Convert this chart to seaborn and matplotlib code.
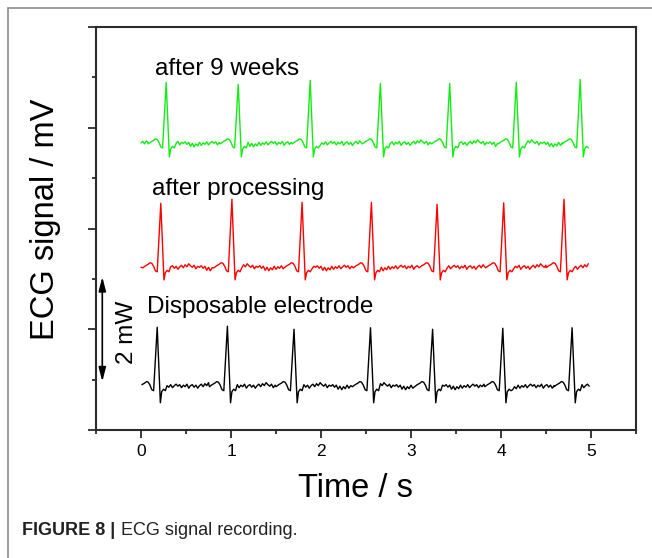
import numpy as np
import pandas as pd
import matplotlib
matplotlib.use("Agg")
import matplotlib.pyplot as plt
import seaborn as sns
from matplotlib.lines import Line2D
from matplotlib.ticker import MultipleLocator

# ---------------- data ----------------
series_names = ["Disposable electrode", "after processing", "after 9 weeks"]
series_colors = ["#000000", "#ff0000", "#11ee11"]

# R-peak times (s)
black_beats = [0.18, 0.96, 1.70, 2.55, 3.24, 4.02, 4.79]
red_beats = [0.22, 1.01, 1.79, 2.56, 3.29, 4.03, 4.70]
green_beats = [0.28, 1.08, 1.88, 2.66, 3.43, 4.17, 4.88]

# R-peak values (mV)
black_peaks = [2.04, 2.06, 2.00, 2.03, 2.00, 2.02, 2.03]
red_peaks = [4.50, 4.58, 4.52, 4.52, 4.48, 4.51, 4.58]
green_peaks = [6.90, 6.86, 6.94, 6.88, 6.88, 6.90, 6.96]

# baseline level and S-wave trough (mV)
black_base, black_trough = 0.86, 0.54
red_base, red_trough = 3.22, 2.98
green_base, green_trough = 5.68, 5.42

# beat shape around the R peak (offset s, value above baseline mV); R / S marked by nan
beat_dt = [-0.20, -0.17, -0.14, -0.12, -0.10, -0.08, -0.06, -0.04, 0.0, 0.035, 0.05, 0.07, 0.09]
beat_dv = [0.00, 0.04, 0.07, 0.10, 0.09, 0.03, -0.06, -0.08, np.nan, np.nan, -0.10, -0.05, -0.08]

# baseline jitter between beats (mV, every 0.02 s), estimated from the traces
wiggle = [-0.05, 0.01, -0.06, 0.00, -0.04, 0.03, -0.03, 0.02, -0.01, 0.04,
          -0.02, 0.02, 0.05, 0.01, 0.04, -0.02, 0.03, 0.00, 0.05, -0.03,
          0.02, 0.04, -0.01, 0.03, -0.03, 0.02, 0.05, 0.00, 0.06, 0.02,
          0.08, 0.04, 0.01, 0.05, -0.02, 0.03, 0.01, 0.04, -0.01, 0.03]

x_ticks = [0, 1, 2, 3, 4, 5]
t_end = 4.98


def build_trace(beats, peaks, base, trough, shift):
    ts, vs = [], []
    for i in range(len(beats) + 1):
        g0 = 0.0 if i == 0 else beats[i - 1] + 0.11
        g1 = t_end if i == len(beats) else beats[i] - 0.20
        k = 0
        t = g0
        while t < g1:
            ts.append(t)
            vs.append(base + wiggle[(k + shift + 7 * i) % len(wiggle)])
            t += 0.02
            k += 1
        if i < len(beats):
            for j, (dt, dv) in enumerate(zip(beat_dt, beat_dv)):
                tt = beats[i] + dt
                if tt < 0:
                    continue
                if j == 8:
                    val = peaks[i]
                elif j == 9:
                    val = trough
                else:
                    val = base + dv
                ts.append(tt)
                vs.append(val)
    return ts, vs


frames = []
for name, beats, peaks, base, trough, shift in [
    (series_names[0], black_beats, black_peaks, black_base, black_trough, 0),
    (series_names[1], red_beats, red_peaks, red_base, red_trough, 13),
    (series_names[2], green_beats, green_peaks, green_base, green_trough, 25),
]:
    ts, vs = build_trace(beats, peaks, base, trough, shift)
    frames.append(pd.DataFrame({"t": ts, "v": vs, "series": name}))
df = pd.concat(frames, ignore_index=True)

# ---------------- figure ----------------
sns.set_theme(style="white")
plt.rcParams["font.family"] = ["Liberation Sans", "DejaVu Sans"]
plt.rcParams["text.color"] = "black"
plt.rcParams["axes.labelcolor"] = "black"
plt.rcParams["xtick.labelcolor"] = "black"

W, H = 652, 558
fig = plt.figure(figsize=(W / 100, H / 100), dpi=100)
ax = fig.add_axes([96 / W, 1 - 430 / H, (636 - 96) / W, (430 - 27) / H])

for name, col in zip(series_names, series_colors):
    sns.lineplot(data=df[df.series == name], x="t", y="v", color=col,
                 sort=False, estimator=None, lw=1.0, ax=ax, legend=False)

ax.set_xlim(-0.5, 5.5)
ax.set_ylim(0, 8)
ax.set_xticks(x_ticks)
ax.set_xticklabels([str(v) for v in x_ticks])
ax.xaxis.set_minor_locator(MultipleLocator(0.5))
ax.yaxis.set_major_locator(MultipleLocator(2))
ax.yaxis.set_minor_locator(MultipleLocator(1))
ax.set_yticklabels([])

spine_col = "#2b2b2b"
for s in ax.spines.values():
    s.set_color(spine_col)
    s.set_linewidth(1.5)
ax.tick_params(axis="both", which="major", direction="out", length=6, width=1.3,
               color=spine_col, labelsize=12.5, pad=4, bottom=True, left=True,
               labelcolor="black")
ax.tick_params(axis="both", which="minor", direction="out", length=3, width=1.3,
               color=spine_col, bottom=True, left=True)
ax.tick_params(axis="y", which="both", labelleft=False)

ax.set_xlabel("Time / s", fontsize=23.5, color="black")
ax.xaxis.label.set_va("baseline")
ax.xaxis.set_label_coords(0.48, -0.166)
ax.set_ylabel("ECG signal / mV", fontsize=23.5, color="black")
ax.yaxis.label.set_va("center")
ax.yaxis.set_label_coords(-0.094, 0.524)

# trace labels
ax.text(0.156, 7.04, "after 9 weeks", fontsize=17.5, ha="left", va="baseline", color="black")
ax.text(0.12, 4.66, "after processing", fontsize=17.5, ha="left", va="baseline", color="black")
ax.text(0.067, 2.32, "Disposable electrode", fontsize=17.5, ha="left", va="baseline", color="black")

# scale bar
ax.annotate("", xy=(-0.43, 3.04), xytext=(-0.43, 0.96),
            arrowprops=dict(arrowstyle="<|-|>,head_length=0.7,head_width=0.18",
                            color="black", lw=1.2, shrinkA=0, shrinkB=0))
ax.text(-0.156, 1.94, "2 mW", fontsize=17.5, rotation=90, ha="center", va="center",
        color="black")

# outer frame
frame_col = "#8c8c8c"
fig.add_artist(Line2D([7.5 / W, 7.5 / W], [0, 1 - 8 / H], color=frame_col, lw=1.2))
fig.add_artist(Line2D([7.5 / W, 1], [1 - 8 / H, 1 - 8 / H], color=frame_col, lw=1.2))

# caption
t1 = fig.text(22 / W, 1 - 535 / H, "FIGURE 8 |", fontsize=13, weight="bold",
              ha="left", va="baseline", color="#222222")
renderer = fig.canvas.get_renderer()
bb = t1.get_window_extent(renderer)
fig.text(bb.x1 / fig.bbox.width + 6 / W, 1 - 535 / H, "ECG signal recording.",
         fontsize=13, ha="left", va="baseline", color="#222222")

fig.savefig("out.png", dpi=100)
